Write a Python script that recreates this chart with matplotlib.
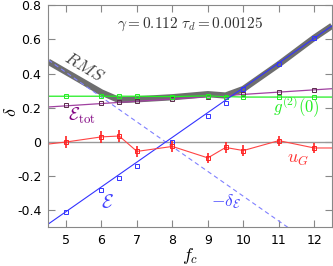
import numpy as np
import matplotlib.pyplot as plt

plt.rcParams['mathtext.fontset'] = 'cm'

fc = np.array([5, 6, 6.5, 7, 8, 9, 9.5, 10, 11, 12])
eps = np.array([-0.41, -0.28, -0.21, -0.14, 0.0, 0.155, 0.23, 0.31, 0.455, 0.61])
eps_line_x = [4.5, 12.5]
eps_line_y = [-0.48, 0.68]
g2 = np.array([0.268, 0.268, 0.268, 0.268, 0.266, 0.27, 0.266, 0.263, 0.263, 0.263])
etot = np.array([0.215, 0.228, 0.235, 0.24, 0.252, 0.262, 0.265, 0.283, 0.294, 0.307])
etot_line_x = [4.5, 12.5]
etot_line_y = [0.205, 0.312]
ug = np.array([0.0, 0.03, 0.035, -0.055, -0.026, -0.093, -0.032, -0.05, 0.008, -0.035])
ug_err = np.array([0.035, 0.035, 0.035, 0.03, 0.03, 0.03, 0.03, 0.03, 0.03, 0.03])
rms_x = [4.5, 5, 6, 6.5, 7, 8, 9, 9.5, 10, 11, 12, 12.5]
rms_y = [0.47, 0.41, 0.29, 0.245, 0.25, 0.262, 0.28, 0.272, 0.31, 0.455, 0.61, 0.68]

fig = plt.figure(figsize=(3.33, 2.66), dpi=100)
ax = fig.add_axes([0.145, 0.145, 0.852, 0.835])

ax.axhline(0, color='#999999', lw=1)
ax.plot(rms_x, rms_y, color='#555555', lw=4.5, alpha=0.85, solid_capstyle='butt')
ax.plot(eps_line_x, [-v for v in eps_line_y], color='#8080ff', lw=0.8, ls=(0, (4, 3)))
ax.plot(etot_line_x, etot_line_y, color='#a040a0', lw=0.9)
ax.plot(fc, etot, ls='', marker='s', ms=3.2, mfc='none', mec='#5a2a4a', mew=0.7)
ax.plot([4.5] + list(fc) + [12.5], [g2[0]] + list(g2) + [g2[-1]], color='#22ee22', lw=0.9,
        marker='s', ms=3.2, mfc='none', mec='#22ee22', mew=0.7, markevery=list(range(1, 11)))
ax.plot(eps_line_x, eps_line_y, color='#3333ff', lw=0.8)
ax.plot(fc, eps, ls='', marker='s', ms=2.8, mfc='none', mec='#3333ff', mew=0.7)
ax.plot([4.5] + list(fc) + [12.5], [-0.012] + list(ug) + [ug[-1]], color='#ff4444', lw=0.8)
ax.errorbar(fc, ug, yerr=ug_err, fmt='s', ms=3, mfc='none', mec='#ff2222',
            ecolor='#ff2222', elinewidth=1.2, capsize=0, mew=0.7)

ax.set_xlim(4.5, 12.5)
ax.set_ylim(-0.5, 0.8)
ax.set_xticks([5, 6, 7, 8, 9, 10, 11, 12])
ax.set_yticks([-0.4, -0.2, 0, 0.2, 0.4, 0.6, 0.8])
ax.set_yticklabels(['-0.4', '-0.2', '0', '0.2', '0.4', '0.6', '0.8'])
ax.tick_params(direction='in', length=5, color='#888888', labelsize=9,
               top=True, right=True, labelright=False, labeltop=False, pad=5)
for s in ax.spines.values():
    s.set_color('#888888')

ax.set_xlabel('$f_c$', fontsize=13, labelpad=-1)
ax.set_ylabel(r'$\delta$', fontsize=13, va='center')
ax.yaxis.set_label_coords(-0.132, 0.52)

ax.text(8.5, 0.69, r'$\gamma = 0.112\ \tau_d = 0.00125$', fontsize=11, ha='center', va='center', color='#333333')
ax.text(5.5, 0.44, r'$RMS$', fontsize=12.5, rotation=-31, color='#444444', ha='center', va='center')
ax.text(5.45, 0.155, r'$\mathcal{E}_{\rm tot}$', fontsize=13, color='#800080', ha='center', va='center')
ax.text(11.5, 0.207, r'$g^{(2)}(0)$', fontsize=12, color='#22ee22', ha='center', va='center')
ax.text(11.55, -0.1, r'$u_G$', fontsize=13, color='#ff3333', ha='center', va='center')
ax.text(9.5, -0.35, r'$-\delta_\mathcal{E}$', fontsize=12.5, color='#4444ff', ha='center', va='center')
ax.text(6.16, -0.355, r'$\mathcal{E}$', fontsize=14, color='#4444ff', ha='center', va='center')

fig.savefig('out.png', dpi=100)
